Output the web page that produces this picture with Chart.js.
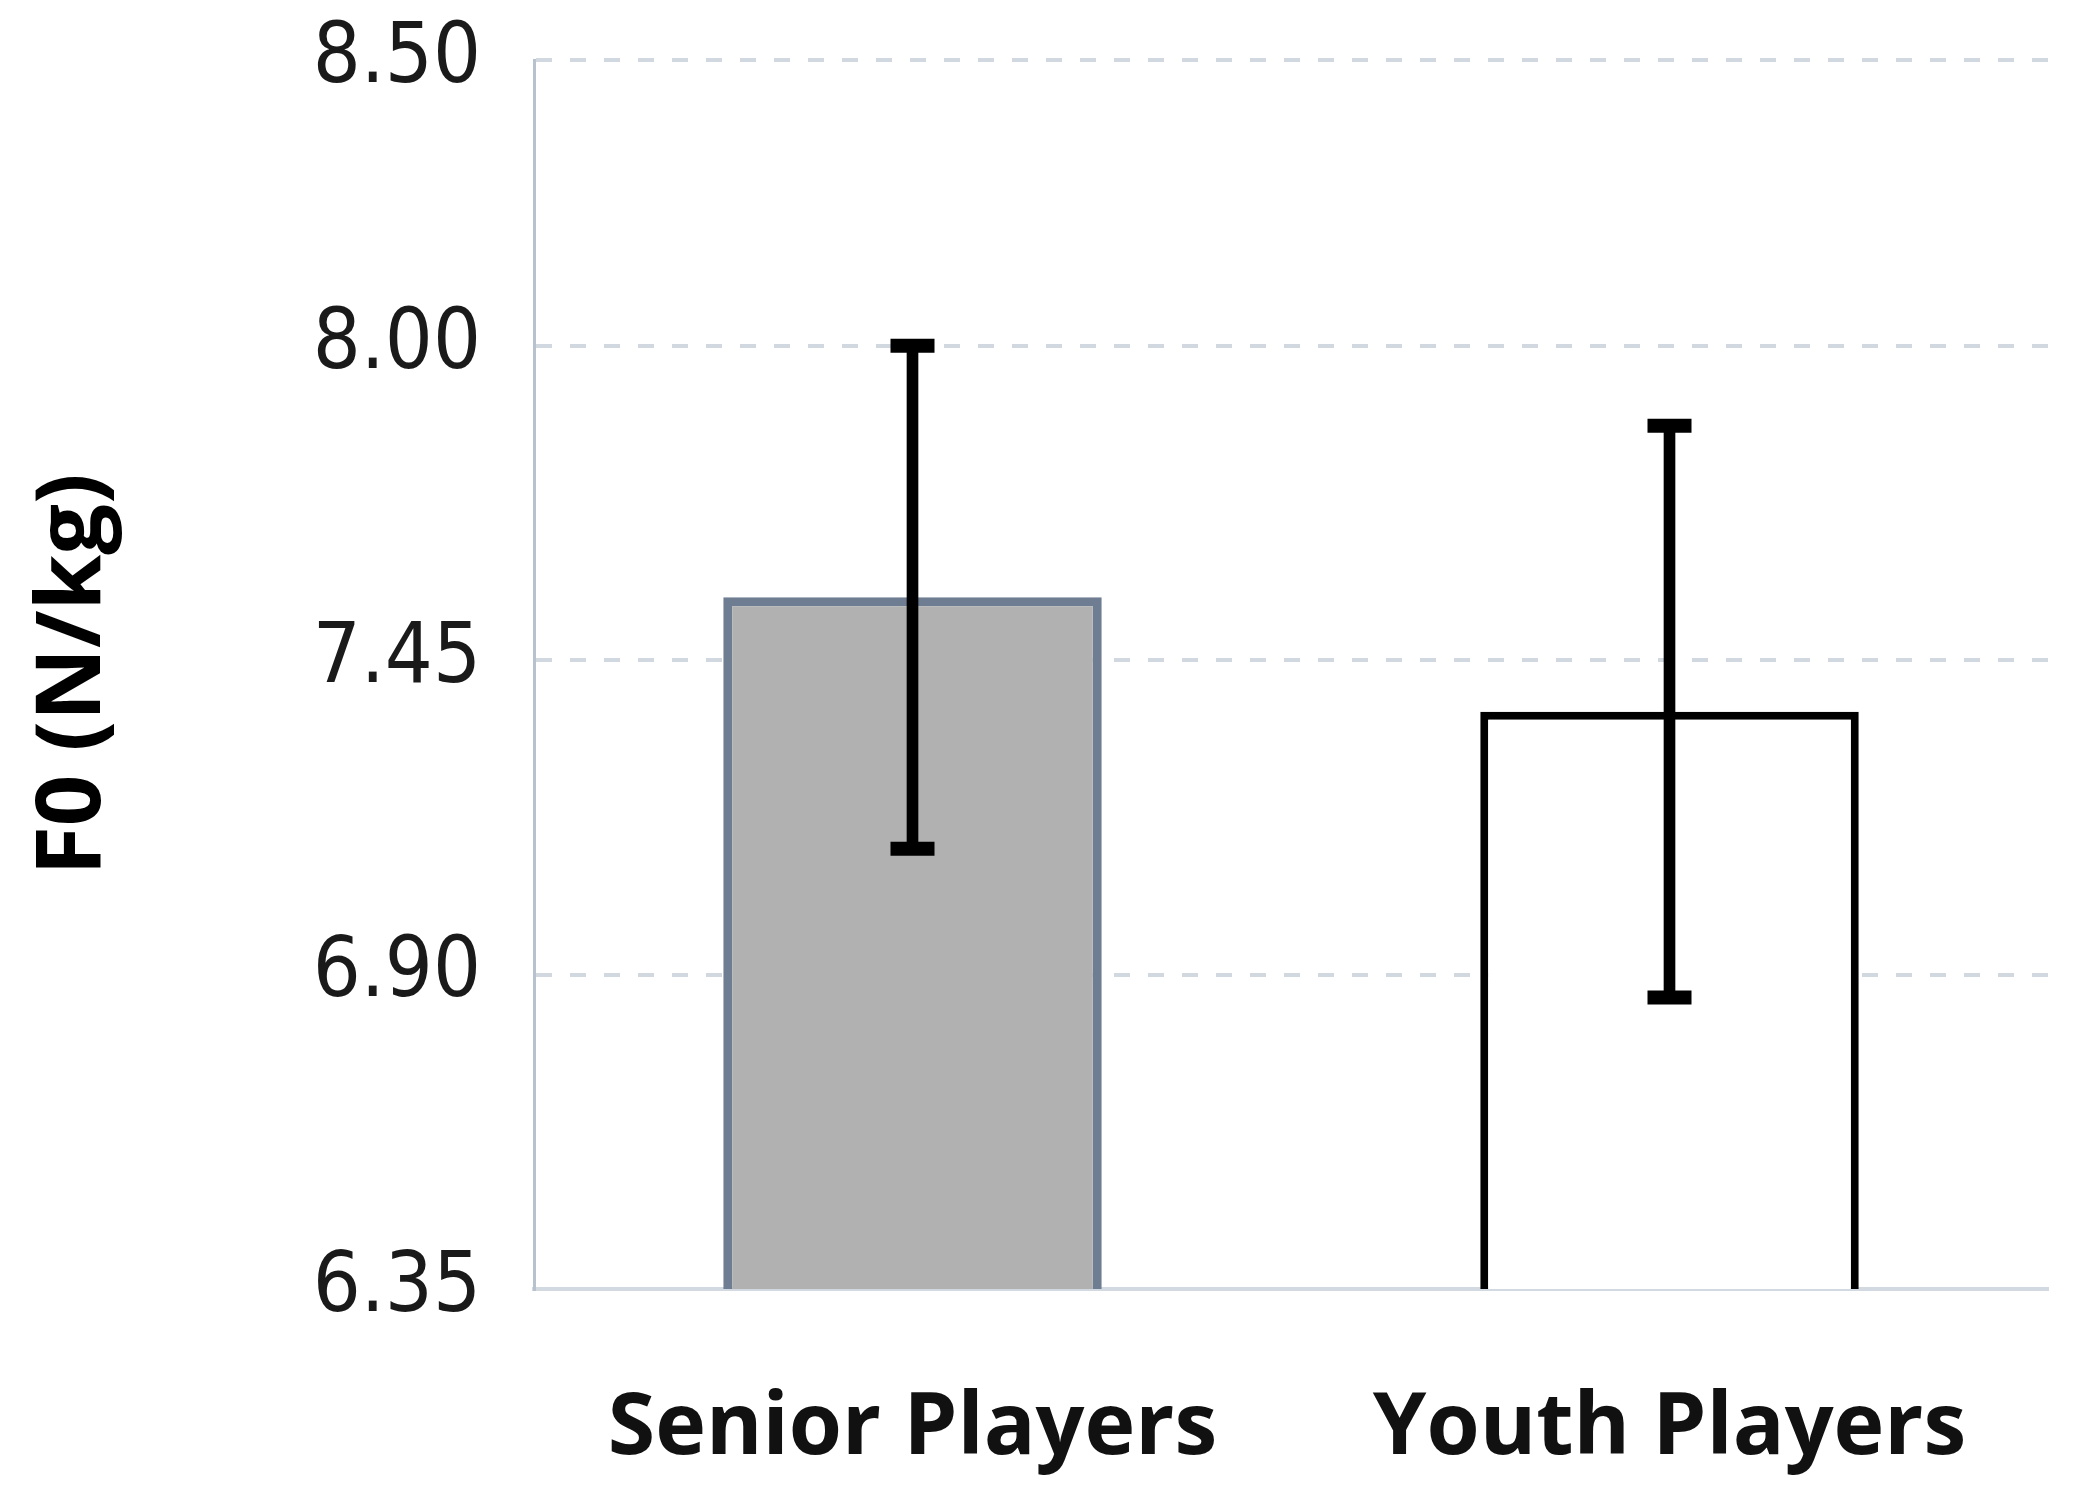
<!DOCTYPE html>
<html>
<head>
<meta charset="utf-8">
<script src="https://cdn.jsdelivr.net/npm/chart.js@4/dist/chart.umd.min.js"></script>
<style>
  html, body { margin: 0; padding: 0; background: #fff; }
  #c { display: block; }
</style>
</head>
<body>
<canvas id="c" width="2084" height="1498"></canvas>
<script>
// values
const categories = ["Senior Players", "Youth Players"];
const means = [7.56, 7.36];
const sds = [0.44, 0.50];
const yTicks = [6.35, 6.90, 7.45, 8.00, 8.50];

const tickFont = '"Liberation Sans Narrow", "DejaVu Sans Condensed", "Open Sans", sans-serif';
const boldFont = '"Open Sans", "Noto Sans", sans-serif';

const lows = means.map((m, i) => m - sds[i]);
const highs = means.map((m, i) => m + sds[i]);

new Chart(document.getElementById("c").getContext("2d"), {
  type: "bar",
  data: {
    labels: categories,
    datasets: [
      {
        label: "F0",
        data: means,
        backgroundColor: ["#b1b1b1", "#ffffff"],
        borderColor: ["#6e7d91", "#000000"],
        borderWidth: [9, 8],
        borderSkipped: false,
        barPercentage: 0.5,
        categoryPercentage: 1,
        grouped: false,
        order: 3,
      },
      {
        label: "sd",
        data: means.map((m, i) => [lows[i], highs[i]]),
        backgroundColor: "#000000",
        borderWidth: 0,
        barThickness: 11,
        grouped: false,
        order: 2,
      },
      {
        type: "line",
        label: "hi",
        data: highs,
        showLine: false,
        pointStyle: "line",
        pointRadius: 22,
        pointBorderWidth: 14,
        pointBorderColor: "#000000",
        order: 1,
      },
      {
        type: "line",
        label: "lo",
        data: lows,
        showLine: false,
        pointStyle: "line",
        pointRadius: 22,
        pointBorderWidth: 14,
        pointBorderColor: "#000000",
        order: 1,
      },
    ],
  },
  options: {
    responsive: false,
    devicePixelRatio: 1,
    animation: false,
    layout: { padding: { top: 60, right: 16, left: 0, bottom: 0 } },
    plugins: { legend: { display: false }, tooltip: { enabled: false } },
    scales: {
      x: {
        offset: true,
        grid: { display: false, drawTicks: false },
        border: { display: true, color: "#d3d9e1", width: 4 },
        ticks: {
          padding: 89,
          color: "#111111",
          font: { family: boldFont, size: 86, weight: "bold" },
        },
        afterFit: (s) => { s.height = 209; },
      },
      y: {
        min: 6.35,
        max: 8.5,
        afterBuildTicks: (s) => { s.ticks = yTicks.map((v) => ({ value: v })); },
        grid: { color: "#d2d8e0", lineWidth: 4, drawTicks: false },
        border: { display: true, color: "#b8c2ce", width: 3, dash: [16, 18] },
        ticks: {
          padding: 53,
          color: "#1a1a1a",
          font: { family: tickFont, size: 84 },
          callback: (v) => Number(v).toFixed(2),
        },
        title: {
          display: true,
          text: "F0 (N/kg)",
          color: "#000000",
          font: { family: boldFont, size: 90, weight: "bold", lineHeight: 1.2 },
          padding: { top: 20, bottom: 0 },
        },
        afterFit: (s) => {
          s.width = 534;
          s.paddingTop = 0;
          s.paddingBottom = 0;
        },
      },
    },
  },
});
</script>
</body>
</html>
